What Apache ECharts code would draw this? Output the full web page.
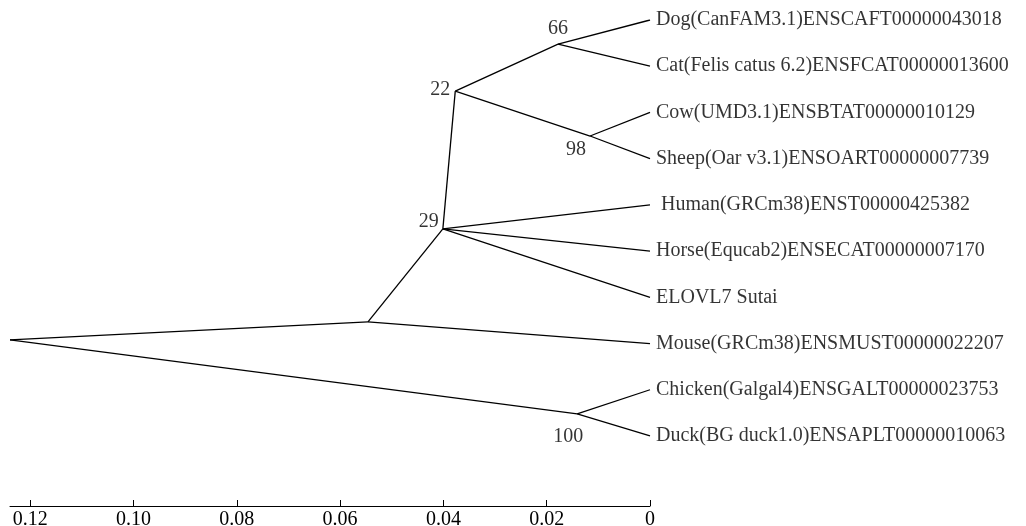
<!DOCTYPE html>
<html><head><meta charset="utf-8">
<script src="https://cdn.jsdelivr.net/npm/echarts@6/dist/echarts.min.js"></script>
<style>html,body{margin:0;padding:0;background:#fff}#c{width:1026px;height:526px}</style>
</head><body><div id="c"></div>
<script>
// Leaves (row index top->bottom, distance 0)
const leafNames = [
  'Dog(CanFAM3.1)ENSCAFT00000043018',
  'Cat(Felis catus 6.2)ENSFCAT00000013600',
  'Cow(UMD3.1)ENSBTAT00000010129',
  'Sheep(Oar v3.1)ENSOART00000007739',
  'Human(GRCm38)ENST00000425382',
  'Horse(Equcab2)ENSECAT00000007170',
  'ELOVL7 Sutai',
  'Mouse(GRCm38)ENSMUST00000022207',
  'Chicken(Galgal4)ENSGALT00000023753',
  'Duck(BG duck1.0)ENSAPLT00000010063'
];
const leafRows = [0,1,2,3,4,5,6,7,8,9];
const leafDist = [0,0,0,0,0,0,0,0,0,0];

// Internal nodes
const nodeIds = ['root','A','n29','n22','n66','n98','n100'];
const nodeDist = [0.1239, 0.0546, 0.0401, 0.0377, 0.0178, 0.0116, 0.0141];
const nodeRows = [6.92, 6.53, 4.52, 1.54, 0.52, 2.51, 8.52];
const nodeSupport = ['', '', '29', '22', '66', '98', '100'];

// Edges: parent -> child ('L#' = leaf index)
const edgeParents  = ['root','root','A','A','n29','n29','n29','n29','n22','n22','n66','n66','n98','n98','n100','n100'];
const edgeChildren = ['A','n100','n29','L7','n22','L4','L5','L6','n66','n98','L0','L1','L2','L3','L8','L9'];

const xTicks = [0, 0.02, 0.04, 0.06, 0.08, 0.10, 0.12];

function pos(id){
  if (id[0] === 'L') { const i = +id.slice(1); return [leafDist[i], leafRows[i]]; }
  const k = nodeIds.indexOf(id); return [nodeDist[k], nodeRows[k]];
}

const FONT = '"Liberation Serif","Times New Roman",serif';
const FS = 20;
const supportPlace = {
  '29':  {position:'left', distance:4, offset:[0,-7]},
  '22':  {position:'left', distance:5, offset:[0,-1]},
  '66':  {position:'top', distance:5, offset:[0,0]},
  '98':  {position:'bottom', distance:6, offset:[-14,-2]},
  '100': {position:'bottom', distance:13, offset:[-9,0]}
};

const chart = echarts.init(document.getElementById('c'), null, {renderer:'canvas'});
chart.setOption({
  animation:false,
  backgroundColor:'#fff',
  grid:{left:10, right:376, top:20, bottom:20, outerBoundsMode:'none'},
  xAxis:{
    type:'value', inverse:true, min:0, max:0.1239, position:'bottom',
    splitLine:{show:false},
    axisLine:{show:true, onZero:false, lineStyle:{color:'#000', width:1}},
    axisTick:{show:true, inside:true, length:6, customValues:xTicks, lineStyle:{color:'#000'}},
    axisLabel:{customValues:xTicks, color:'#000', fontFamily:FONT, fontSize:FS, margin:4,
      formatter:v => v === 0 ? '0' : v.toFixed(2)}
  },
  yAxis:{type:'value', inverse:true, min:0, max:10.515, show:false},
  series:[
    {
      type:'lines', coordinateSystem:'cartesian2d', polyline:false, silent:true,
      lineStyle:{color:'#000', width:1.3, opacity:1},
      data: edgeParents.map((p,i)=>({coords:[pos(p), pos(edgeChildren[i])]}))
    },
    {
      type:'scatter', symbolSize:0, silent:true,
      data: leafNames.map((n,i)=>({
        value:[leafDist[i], leafRows[i]], name:n,
        label:{distance: n.startsWith('Human') ? 11 : 6}
      })),
      label:{show:true, position:'right', color:'#000', fontFamily:FONT, fontSize:FS,
        formatter:p=>p.name}
    },
    {
      type:'scatter', symbolSize:0, silent:true,
      data: nodeIds.map((id,k)=>({value:[nodeDist[k], nodeRows[k]], name:nodeSupport[k]}))
        .filter(d=>d.name!=='')
        .map(d=>Object.assign(d,{label:supportPlace[d.name]})),
      label:{show:true, color:'#000', fontFamily:FONT, fontSize:FS, formatter:p=>p.name}
    }
  ]
});
</script></body></html>
